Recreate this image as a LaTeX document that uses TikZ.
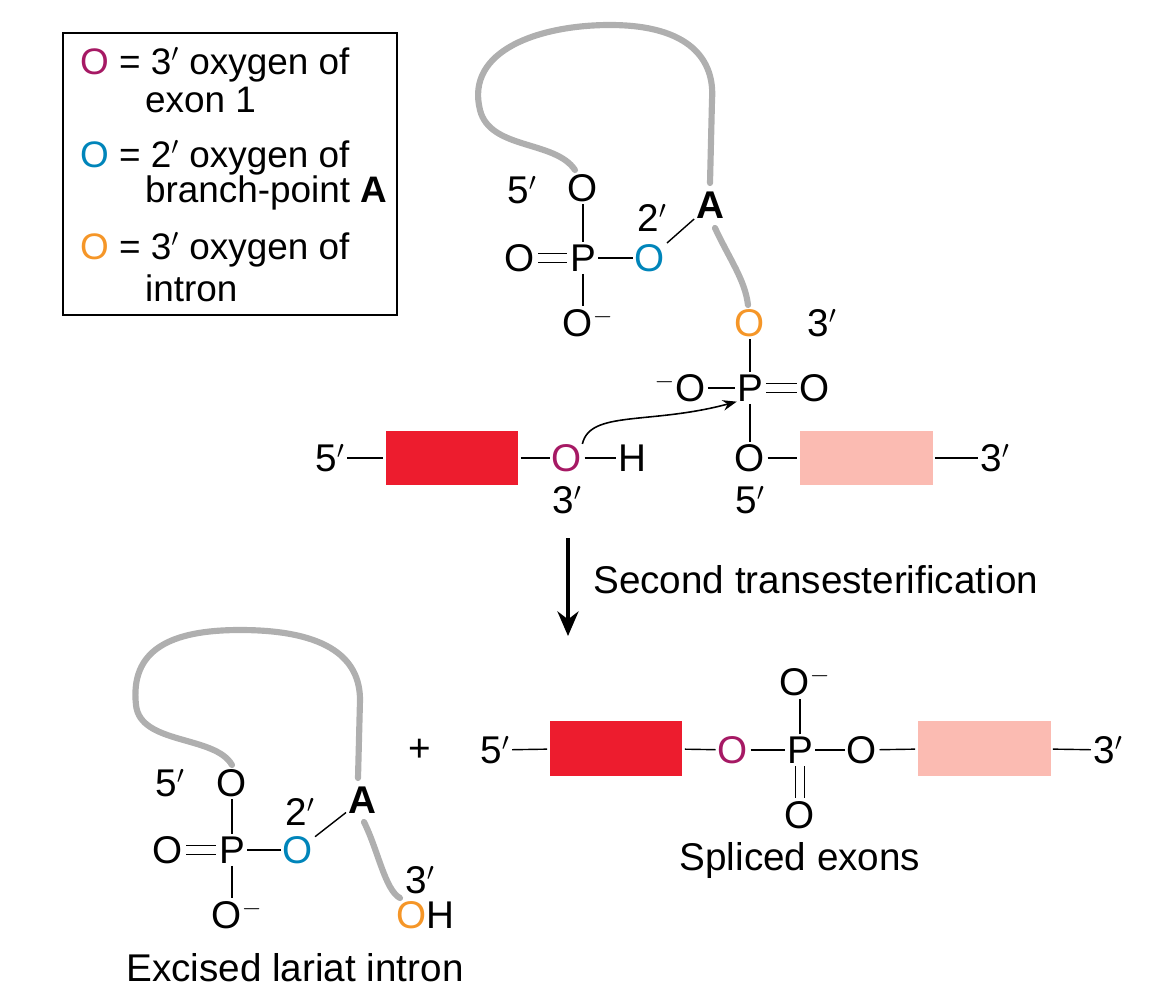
\documentclass[tikz,border=0pt]{standalone}
\usepackage{fontspec}
\setmainfont{Liberation Sans}
\usetikzlibrary{arrows.meta,positioning}
\definecolor{exonred}{RGB}{237,28,46}
\definecolor{exonpink}{RGB}{251,187,178}
\definecolor{oxmag}{RGB}{166,25,100}
\definecolor{oxblue}{RGB}{0,133,186}
\definecolor{oxorange}{RGB}{245,150,40}
\definecolor{rnagray}{RGB}{175,175,175}

\begin{document}
\begin{tikzpicture}[x=0.02cm, y=-0.02cm,
    atom/.style={inner sep=0pt, font=\fontsize{22}{26}\selectfont},
    lbl/.style={inner sep=0pt, font=\fontsize{22}{26}\selectfont},
    leg/.style={inner sep=1pt, font=\fontsize{21}{25}\selectfont},
    bond/.style={line width=0.8pt, shorten <=1.2pt, shorten >=1.2pt},
    dbond/.style={double, double distance=4pt, line width=0.8pt, shorten <=1.5pt, shorten >=1.5pt},
    rna/.style={rnagray, line width=3.5pt, line cap=round},
    exon/.style={draw=none, minimum width=2.66cm, minimum height=1.1cm, inner sep=0pt},
    arrow/.style={-{Stealth[length=8pt]}, line width=0.9pt}
]
\useasboundingbox (0,0) rectangle (1149,1000);

% Legend
\node[draw, line width=1pt, minimum width=6.68cm, minimum height=5.64cm] (legend) at (230,174) {};
\node[leg, anchor=west] (leg1) at (78,65) {\textcolor{oxmag}{O} = 3$'$ oxygen of};
\node[leg, anchor=west] (leg1b) at (143,100) {exon 1};
\node[leg, anchor=west] (leg2) at (78,158) {\textcolor{oxblue}{O} = 2$'$ oxygen of};
\node[leg, anchor=west] (leg2b) at (143,193) {branch-point \textbf{A}};
\node[leg, anchor=west] (leg3) at (78,250) {\textcolor{oxorange}{O} = 3$'$ oxygen of};
\node[leg, anchor=west] (leg3b) at (143,288) {intron};

% Top: branch-point phosphate
\node[atom] (to5) at (583,188) {O};
\node[lbl] (t5p) at (522,190) {5$'$};
\node[atom] (tp1) at (583,258) {P};
\node[atom] (tod) at (520,258) {O};
\node[atom, text=oxblue] (tob) at (650,258) {O};
\node[atom] (tom) at (588,323) {O$^-$};
\node[lbl] (t2p) at (652,218) {2$'$};
\node[atom, font=\fontsize{22}{26}\selectfont\bfseries] (ta) at (710,205) {A};
\draw[bond] (to5) -- (tp1);
\draw[bond] (tp1) -- (tom.north -| tp1);
\draw[dbond] (tod) -- (tp1);
\draw[bond] (tp1) -- (tob);
\draw[bond] (tob) -- (ta);
\draw[rna] (575,170) .. controls (555,140) and (490,150) .. (480,110)
  .. controls (465,50) and (540,25) .. (610,25)
  .. controls (690,25) and (715,60) .. (712,100) -- (710,183);

% Top: 3' splice-site phosphate
\node[atom, text=oxorange] (to3) at (750,323) {O};
\node[lbl] (t3p) at (822,323) {3$'$};
\node[atom] (tp2) at (750,388) {P};
\node[atom] (tom2) at (680,388) {$^-$O};
\node[atom] (tod2) at (815,388) {O};
\node[atom] (to4) at (750,458) {O};
\node[lbl] (t5q) at (750,500) {5$'$};
\draw[rna] (715,228) .. controls (730,260) and (745,280) .. (748,305);
\draw[bond] (to3) -- (tp2);
\draw[bond] (tom2) -- (tp2);
\draw[dbond] (tp2) -- (tod2);
\draw[bond] (tp2) -- (to4);

% Top: exons
\node[lbl] (t5e) at (330,458) {5$'$};
\node[exon, fill=exonred] (tex1) at (452,458) {};
\node[atom, text=oxmag] (toh) at (567,458) {O};
\node[atom] (th) at (632,458) {H};
\node[lbl] (t3q) at (567,500) {3$'$};
\node[exon, fill=exonpink] (tex2) at (866,458) {};
\node[lbl] (t3e) at (995,458) {3$'$};
\draw[bond] (t5e) -- (tex1);
\draw[bond] (tex1) -- (toh);
\draw[bond] (toh) -- (th);
\draw[bond] (to4) -- (tex2);
\draw[bond] (tex2) -- (t3e);
\draw[arrow] (toh.north east) .. controls (590,410) and (650,425) .. (tp2.south west);

% Reaction arrow
\coordinate (rtop) at (568,538);
\coordinate (rbot) at (568,636);
\draw[-{Stealth[length=14pt,width=12pt]}, line width=2pt] (rtop) -- (rbot);
\node[lbl, anchor=west] (rlabel) at (593,580) {Second transesterification};

% Bottom: lariat
\node[atom] (bo5) at (232,783) {O};
\node[lbl] (b5p) at (170,783) {5$'$};
\node[atom] (bp1) at (232,850) {P};
\node[atom] (bod) at (168,850) {O};
\node[atom, text=oxblue] (bob) at (298,850) {O};
\node[atom] (bom) at (237,915) {O$^-$};
\node[lbl] (b2p) at (300,812) {2$'$};
\node[atom, font=\fontsize{22}{26}\selectfont\bfseries] (ba) at (362,800) {A};
\node[lbl] (b3p) at (420,880) {3$'$};
\node[atom] (boh) at (425,915) {\textcolor{oxorange}{O}H};
\draw[bond] (bo5) -- (bp1);
\draw[bond] (bp1) -- (bom.north -| bp1);
\draw[dbond] (bod) -- (bp1);
\draw[bond] (bp1) -- (bob);
\draw[bond] (bob) -- (ba);
\draw[rna] (232,765) .. controls (215,735) and (140,745) .. (136,705)
  .. controls (130,650) and (170,630) .. (240,630)
  .. controls (330,630) and (360,660) .. (360,700) -- (358,778);
\draw[rna] (364,822) .. controls (378,850) and (385,890) .. (400,898);
\node[lbl] (bcap1) at (295,968) {Excised lariat intron};

% Bottom: spliced exons
\node[lbl] (plus) at (420,750) {+};
\node[lbl] (b5e) at (495,750) {5$'$};
\node[exon, fill=exonred] (bex1) at (616,748) {};
\node[atom, text=oxmag] (bo1) at (733,750) {O};
\node[atom] (bp2) at (800,750) {P};
\node[atom] (bom2) at (805,682) {O$^-$};
\node[atom] (bod2) at (800,815) {O};
\node[atom] (bo2) at (862,750) {O};
\node[exon, fill=exonpink] (bex2) at (984,748) {};
\node[lbl] (b3e) at (1108,750) {3$'$};
\draw[bond] (b5e) -- (bex1);
\draw[bond] (bex1) -- (bo1);
\draw[bond] (bo1) -- (bp2);
\draw[bond] (bp2) -- (bom2.south -| bp2);
\draw[dbond] (bp2) -- (bod2);
\draw[bond] (bp2) -- (bo2);
\draw[bond] (bo2) -- (bex2);
\draw[bond] (bex2) -- (b3e);
\node[lbl] (bcap2) at (800,860) {Spliced exons};
\end{tikzpicture}
\end{document}
